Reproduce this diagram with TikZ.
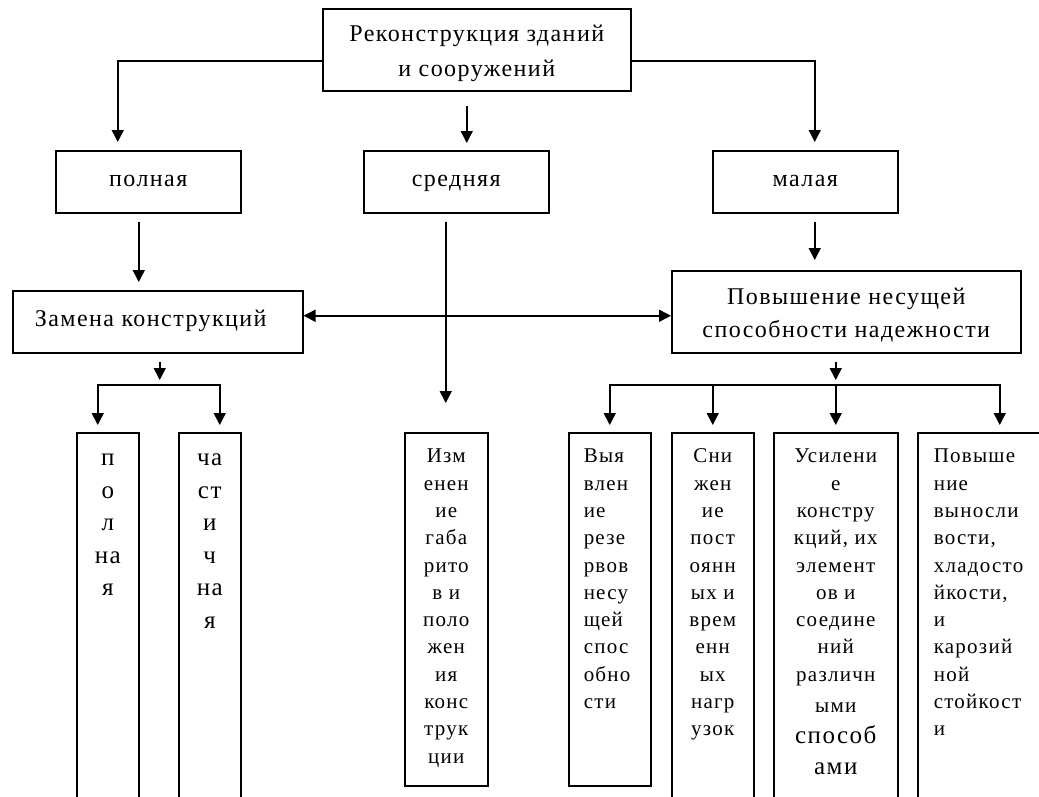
\documentclass[tikz,border=0pt]{standalone}
\usepackage{fontspec}
\setmainfont{Liberation Serif}[LetterSpace=6]
\usetikzlibrary{arrows.meta,calc}
\newcommand\fsz[2]{\fontsize{#1pt}{#2pt}\selectfont}
\tikzset{
  box/.style={draw, line width=1.5pt, inner sep=0pt, anchor=north west, align=center},
  sbox/.style={box, minimum width=185pt, minimum height=62pt, font=\fsz{24}{28}, text height=16pt, text depth=6pt},
  ln/.style={line width=1.5pt},
  arr/.style={line width=1.5pt, -{Triangle[width=12pt,length=12pt]}},
  darr/.style={line width=1.5pt, {Triangle[width=12pt,length=12pt]}-{Triangle[width=12pt,length=12pt]}}
}
\begin{document}
\begin{tikzpicture}[x=1pt,y=-1pt]
\useasboundingbox (0,0) rectangle (1039,796);
\fill[white] (0,0) rectangle (1039,796);
\clip (0,0) rectangle (1039,796);
% upper boxes
\node[box] (top) at (322,8) {\parbox[c][82pt][t]{308pt}{\centering\fsz{24}{35}\vspace*{8pt}\strut Реконструкция зданий\\и сооружений}};
\node[sbox] (poln) at (55,150) {полная};
\node[sbox] (sred) at (363,150) {средняя};
\node[sbox] (mal) at (712,150) {малая};
\node[sbox, minimum width=290pt] (zam) at (12,290) {Замена конструкций\hspace*{14pt}};
\node[box] (pov) at (671,270) {\parbox[c][82pt][t]{349pt}{\centering\fsz{24}{32.5}\vspace*{11pt}\strut Повышение несущей\\способности надежности}};
% column boxes
\node[box] (p1) at (76,432) {\parbox[c][400pt][t]{62pt}{\centering\fsz{25}{32.5}\vspace*{10pt}\strut п\\о\\л\\на\\я}};
\node[box] (p2) at (178,432) {\parbox[c][400pt][t]{62pt}{\centering\fsz{25}{32.5}\vspace*{10pt}\strut ча\\ст\\и\\ч\\на\\я}};
\node[box] (izm) at (404,432) {\parbox[c][353pt][t]{83pt}{\centering\fsz{21}{27.3}\vspace*{11pt}\strut Изм\\енен\\ие\\габа\\рито\\в и\\поло\\жен\\ия\\конс\\трук\\ции}};
\node[box] (b1) at (568,432) {\parbox[c][353pt][t]{82pt}{\raggedright\leftskip=15pt\fsz{21}{27.3}\vspace*{11pt}\strut Выя\\влен\\ие\\резе\\рвов\\несу\\щей\\спос\\обно\\сти}};
\node[box] (b2) at (671,432) {\parbox[c][400pt][t]{82pt}{\centering\fsz{21}{27.3}\vspace*{11pt}\strut Сни\\жен\\ие\\пост\\оянн\\ых и\\врем\\енн\\ых\\нагр\\узок}};
\node[box] (b3) at (773,432) {\parbox[c][400pt][t]{124pt}{\centering\fsz{21}{27.3}\vspace*{11pt}\strut Усилени\\е\\констру\\кций, их\\элемент\\ов и\\соедине\\ний\\различн\par\fsz{21}{31.5}ыми\\\fsz{25}{31}способ\\ами}};
\node[box] (b4) at (917,432) {\parbox[c][400pt][t]{164pt}{\raggedright\leftskip=16pt\fsz{21}{27.3}\vspace*{11pt}\strut Повыше\\ние\\выносли\\вости,\\хладосто\\йкости,\\и\\карозий\\ной\\стойкост\\и}};
% level coordinates of the brackets
\coordinate (lbr) at (0,385);
\coordinate (rbr) at (0,385);
% connectors
\draw[arr, shorten >=8pt] ([yshift=-11pt]top.west) -| ([xshift=-30.5pt]poln.north);
\draw[arr, shorten >=8pt] ([yshift=-11pt]top.east) -| ([xshift=9.5pt]mal.north);
\draw[arr, shorten <=14pt, shorten >=7pt] ([xshift=10.5pt]sred.north |- top.south) -- ([xshift=10.5pt]sred.north);
\draw[arr, shorten <=8pt, shorten >=8pt] ([xshift=-9.5pt]poln.south) -- ([xshift=-9.5pt]poln.south |- zam.north);
\draw[arr, shorten <=8pt, shorten >=10pt] ([xshift=9.5pt]mal.south) -- ([xshift=9.5pt]mal.south |- pov.north);
\draw[arr, shorten <=8pt, shorten >=29pt] ([xshift=-10.5pt]sred.south) -- ([xshift=-10.5pt]sred.south |- izm.north);
\draw[darr] ([yshift=6pt]zam.east) -- ([yshift=6pt]zam.east -| pov.west);
% left bracket
\draw[arr, shorten <=8pt, shorten >=5pt] ([xshift=2pt]zam.south) -- ([xshift=2pt]zam.south |- lbr);
\draw[arr, shorten >=7pt] ([xshift=2pt]zam.south |- lbr) -| ([xshift=-10pt]p1.north);
\draw[arr, shorten >=7pt] ([xshift=2pt]zam.south |- lbr) -| ([xshift=10pt]p2.north);
% right bracket
\draw[arr, shorten <=8pt, shorten >=5pt] ([xshift=-10.5pt]pov.south) -- ([xshift=-10.5pt]pov.south |- rbr);
\draw[arr, shorten >=7pt] ([xshift=-10.5pt]pov.south |- rbr) -| (b1.north);
\draw[arr, shorten >=7pt] ([xshift=-10.5pt]pov.south |- rbr) -| (b2.north);
\draw[arr, shorten >=7pt] ([xshift=-10.5pt]pov.south |- rbr) -- (b3.north);
\draw[arr, shorten >=7pt] ([xshift=-10.5pt]pov.south |- rbr) -| (b4.north);
\end{tikzpicture}
\end{document}
